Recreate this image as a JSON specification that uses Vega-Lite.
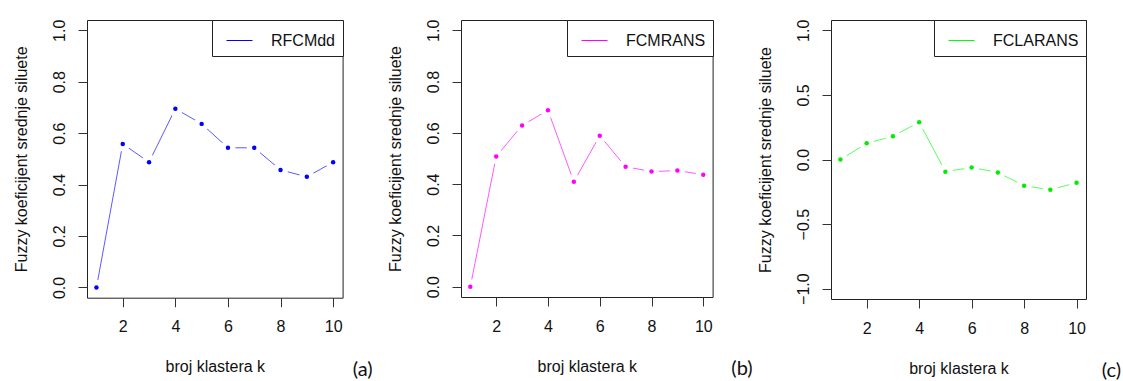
{
  "$schema": "https://vega.github.io/schema/vega-lite/v6.json",
  "padding": {"left": 12, "top": 18, "right": 0, "bottom": 0},
  "background": "white",
  "config": {
    "font": "Liberation Sans",
    "view": {"stroke": "#222", "strokeWidth": 1},
    "axis": {
      "grid": false,
      "domain": false,
      "tickColor": "#333",
      "tickSize": 9,
      "labelFontSize": 16,
      "labelColor": "#111",
      "titleFontSize": 16,
      "titleFontWeight": "normal",
      "titleColor": "#111"
    },
    "axisX": {"labelPadding": 12, "titlePadding": 24},
    "axisY": {
      "labelAngle": 270,
      "labelAlign": "center",
      "labelBaseline": "alphabetic",
      "labelPadding": 14,
      "titlePadding": 22
    },
    "legend": {
      "orient": "top-right",
      "offset": 0,
      "strokeColor": "#222",
      "fillColor": "white",
      "padding": 7,
      "symbolType": "stroke",
      "symbolSize": 676,
      "symbolStrokeWidth": 1,
      "symbolOpacity": 1,
      "symbolOffset": 7,
      "labelFontSize": 16,
      "labelColor": "#111",
      "labelOffset": 18,
      "cornerRadius": 0
    },
    "title": {
      "orient": "bottom",
      "anchor": "end",
      "frame": "group",
      "font": "Lato",
      "fontSize": 20,
      "fontWeight": "normal",
      "color": "#111"
    }
  },
  "datasets": {
    "rfcmdd": [
      {"k": 1, "v": 0.0, "metoda": "RFCMdd"},
      {"k": 2, "v": 0.558, "metoda": "RFCMdd"},
      {"k": 3, "v": 0.487, "metoda": "RFCMdd"},
      {"k": 4, "v": 0.695, "metoda": "RFCMdd"},
      {"k": 5, "v": 0.636, "metoda": "RFCMdd"},
      {"k": 6, "v": 0.543, "metoda": "RFCMdd"},
      {"k": 7, "v": 0.543, "metoda": "RFCMdd"},
      {"k": 8, "v": 0.457, "metoda": "RFCMdd"},
      {"k": 9, "v": 0.43, "metoda": "RFCMdd"},
      {"k": 10, "v": 0.487, "metoda": "RFCMdd"}
    ],
    "fcmrans": [
      {"k": 1, "v": 0.0, "metoda": "FCMRANS"},
      {"k": 2, "v": 0.508, "metoda": "FCMRANS"},
      {"k": 3, "v": 0.629, "metoda": "FCMRANS"},
      {"k": 4, "v": 0.688, "metoda": "FCMRANS"},
      {"k": 5, "v": 0.409, "metoda": "FCMRANS"},
      {"k": 6, "v": 0.589, "metoda": "FCMRANS"},
      {"k": 7, "v": 0.468, "metoda": "FCMRANS"},
      {"k": 8, "v": 0.449, "metoda": "FCMRANS"},
      {"k": 9, "v": 0.453, "metoda": "FCMRANS"},
      {"k": 10, "v": 0.437, "metoda": "FCMRANS"}
    ],
    "fclarans": [
      {"k": 1, "v": 0.0, "metoda": "FCLARANS"},
      {"k": 2, "v": 0.125, "metoda": "FCLARANS"},
      {"k": 3, "v": 0.18, "metoda": "FCLARANS"},
      {"k": 4, "v": 0.289, "metoda": "FCLARANS"},
      {"k": 5, "v": -0.094, "metoda": "FCLARANS"},
      {"k": 6, "v": -0.062, "metoda": "FCLARANS"},
      {"k": 7, "v": -0.1, "metoda": "FCLARANS"},
      {"k": 8, "v": -0.203, "metoda": "FCLARANS"},
      {"k": 9, "v": -0.234, "metoda": "FCLARANS"},
      {"k": 10, "v": -0.18, "metoda": "FCLARANS"}
    ]
  },
  "bounds": "flush",
  "spacing": 118,
  "resolve": {"scale": {"color": "independent"}, "legend": {"color": "independent"}},
  "hconcat": [
    {
      "width": 255.6,
      "height": 277.7,
      "title": {"text": "(a)", "dx": 30, "offset": -15},
      "data": {"name": "rfcmdd"},
      "encoding": {
        "x": {"field": "k", "type": "quantitative",
              "scale": {"domain": [0.64, 10.36], "nice": false, "zero": false},
              "axis": {"values": [2, 4, 6, 8, 10], "title": "broj klastera k"}},
        "y": {"field": "v", "type": "quantitative",
              "scale": {"domain": [-0.04, 1.04], "nice": false, "zero": false},
              "axis": {"values": [0, 0.2, 0.4, 0.6, 0.8, 1.0], "format": ".1f", "title": "Fuzzy koeficijent srednje siluete"}}
      },
      "layer": [
        {"mark": {"type": "line", "strokeWidth": 1, "opacity": 0.65},
         "encoding": {"color": {"field": "metoda", "type": "nominal", "scale": {"range": ["#0000ff"]}, "legend": {"title": null}}}},
        {"mark": {"type": "point", "filled": true, "color": "white", "opacity": 1, "size": 230}},
        {"mark": {"type": "point", "filled": true, "color": "#0000ff", "opacity": 1, "size": 20}}
      ]
    },
    {
      "width": 251.6,
      "height": 277,
      "title": {"text": "(b)", "dx": 40, "offset": -15},
      "data": {"name": "fcmrans"},
      "encoding": {
        "x": {"field": "k", "type": "quantitative",
              "scale": {"domain": [0.64, 10.36], "nice": false, "zero": false},
              "axis": {"values": [2, 4, 6, 8, 10], "title": "broj klastera k"}},
        "y": {"field": "v", "type": "quantitative",
              "scale": {"domain": [-0.04, 1.04], "nice": false, "zero": false},
              "axis": {"values": [0, 0.2, 0.4, 0.6, 0.8, 1.0], "format": ".1f", "title": "Fuzzy koeficijent srednje siluete"}}
      },
      "layer": [
        {"mark": {"type": "line", "strokeWidth": 1, "opacity": 0.65},
         "encoding": {"color": {"field": "metoda", "type": "nominal", "scale": {"range": ["#ff00ff"]}, "legend": {"title": null}}}},
        {"mark": {"type": "point", "filled": true, "color": "white", "opacity": 1, "size": 230}},
        {"mark": {"type": "point", "filled": true, "color": "#ff00ff", "opacity": 1, "size": 20}}
      ]
    },
    {
      "width": 255,
      "height": 279,
      "title": {"text": "(c)", "dx": 35, "offset": -15},
      "data": {"name": "fclarans"},
      "encoding": {
        "x": {"field": "k", "type": "quantitative",
              "scale": {"domain": [0.64, 10.36], "nice": false, "zero": false},
              "axis": {"values": [2, 4, 6, 8, 10], "title": "broj klastera k"}},
        "y": {"field": "v", "type": "quantitative",
              "scale": {"domain": [-1.08, 1.08], "nice": false, "zero": false},
              "axis": {"values": [-1, -0.5, 0, 0.5, 1], "format": ".1f", "title": "Fuzzy koeficijent srednje siluete"}}
      },
      "layer": [
        {"mark": {"type": "line", "strokeWidth": 1, "opacity": 0.65},
         "encoding": {"color": {"field": "metoda", "type": "nominal", "scale": {"range": ["#00ff00"]}, "legend": {"title": null}}}},
        {"mark": {"type": "point", "filled": true, "color": "white", "opacity": 1, "size": 230}},
        {"mark": {"type": "point", "filled": true, "color": "#00ee00", "opacity": 1, "size": 20}}
      ]
    }
  ]
}
